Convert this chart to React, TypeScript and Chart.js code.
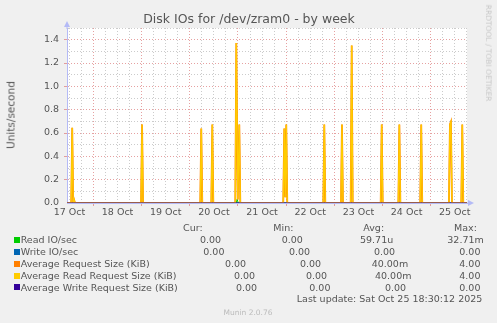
import React, { useEffect, useRef } from "react";
import { Chart, registerables } from "chart.js";

Chart.register(...registerables);

// ---------- data ----------
const titleText = "Disk IOs for /dev/zram0 - by week";
const yAxisTitle = "Units/second";
const dayLabels = ["17 Oct", "18 Oct", "19 Oct", "20 Oct", "21 Oct", "22 Oct", "23 Oct", "24 Oct", "25 Oct"];
const dayLabelHours = [12, 36, 60, 84, 108, 132, 156, 180, 204];
const yTicks = [0, 0.1, 0.2, 0.3, 0.4, 0.5, 0.6, 0.7, 0.8, 0.9, 1.0, 1.1, 1.2, 1.3, 1.4, 1.5];
const xMinHour = 10.8;
const xMaxHour = 210.1;

// spikes (hours since 17 Oct 00:00) of the average request size (KiB)
const spikeHours = [13.4, 14.3, 48.2, 77.7, 83.2, 95.15, 95.9, 96.65, 119.05, 119.55, 120.05, 139.0, 147.8, 152.65, 167.6, 176.4, 187.3, 201.6, 202.1, 207.75];
const avgRequestSize = [0.645, 0.03, 0.673, 0.638, 0.673, 1.372, 0.03, 0.673, 0.638, 0.05, 0.673, 0.673, 0.673, 1.349, 0.673, 0.673, 0.673, 0.673, 0.696, 0.673];
const avgReadRequestSize = [0.645, 0.03, 0.673, 0.638, 0.673, 1.372, 0.03, 0.673, 0.638, 0.05, 0.673, 0.673, 0.673, 1.349, 0.673, 0.673, 0.673, 0.673, 0.696, 0.673];
const readIoHours = [95.6];
const readIoValues = [0.0327];

const legendNames = ["Read IO/sec", "Write IO/sec", "Average Request Size (KiB)", "Average Read Request Size (KiB)", "Average Write Request Size (KiB)"];
const legendColors = ["#00CC00", "#0066B3", "#FF8000", "#FFCC00", "#330099"];
const curValues = ["0.00", "0.00", "0.00", "0.00", "0.00"];
const minValues = ["0.00", "0.00", "0.00", "0.00", "0.00"];
const avgValues = ["59.71u", "0.00", "40.00m", "40.00m", "0.00"];
const maxValues = ["32.71m", "0.00", "4.00", "4.00", "0.00"];
const lastUpdate = "Last update: Sat Oct 25 18:30:12 2025";
const muninVersion = "Munin 2.0.76";
const rrdCredit = "RRDTOOL / TOBI OETIKER";

// ---------- layout ----------
const W = 497;
const H = 323;
const FONT = "'DejaVu Sans', sans-serif";
const TEXT = "#555555";
const AXIS = "#b4baf6";
const MAJOR = "rgba(222,130,130,0.75)";
const MINOR = "rgba(190,190,190,0.8)";

const rowBaselines = [243.3, 255.1, 267.3, 279.3, 290.7];
const curX = [200, 203.3, 225, 234, 236];
const minX = [281.7, 289, 300, 306, 309.3];
const avgX = [360, 374, 371.7, 375, 385];
const maxX = [447.3, 459.3, 459.3, 459.3, 459.3];

type Pt = { x: number; y: number };
function spikeSeries(hours: number[], values: number[]): Pt[] {
  const pts: Pt[] = [{ x: xMinHour, y: 0 }];
  hours.forEach((h, i) => {
    const prev = hours[i - 1];
    const next = hours[i + 1];
    if (prev === undefined || h - prev > 0.9) pts.push({ x: h - 0.5, y: 0 });
    pts.push({ x: h, y: values[i] });
    if (next === undefined || next - h > 0.9) pts.push({ x: h + 0.5, y: 0 });
  });
  pts.push({ x: xMaxHour, y: 0 });
  return pts;
}
const flat: Pt[] = [{ x: xMinHour, y: 0 }, { x: xMaxHour, y: 0 }];

const plotBg = {
  id: "plotBg",
  beforeDraw(chart: any) {
    const { ctx, chartArea: a } = chart;
    ctx.save();
    ctx.fillStyle = "#ffffff";
    ctx.fillRect(a.left, a.top, a.right - a.left, a.bottom - a.top);
    ctx.restore();
  },
  afterDraw(chart: any) {
    const { ctx, chartArea: a } = chart;
    ctx.save();
    ctx.fillStyle = AXIS;
    // y axis arrow
    ctx.beginPath();
    ctx.moveTo(a.left - 3, a.top - 1);
    ctx.lineTo(a.left + 3, a.top - 1);
    ctx.lineTo(a.left, a.top - 7);
    ctx.closePath();
    ctx.fill();
    ctx.fillRect(a.left - 0.5, a.top - 2, 1, 3);
    // x axis arrow
    ctx.fillRect(a.right, a.bottom - 0.5, 2, 1);
    ctx.beginPath();
    ctx.moveTo(a.right + 1, a.bottom - 3);
    ctx.lineTo(a.right + 1, a.bottom + 3);
    ctx.lineTo(a.right + 7, a.bottom);
    ctx.closePath();
    ctx.fill();
    ctx.restore();
  },
};

function Txt(props: { x: number; base: number; size?: number; color?: string; align?: "left" | "right" | "center"; children: React.ReactNode }) {
  const size = props.size ?? 9.5;
  const top = props.base - 0.846 * size;
  const style: React.CSSProperties = {
    position: "absolute",
    top,
    fontFamily: FONT,
    fontSize: size,
    lineHeight: `${size}px`,
    color: props.color ?? TEXT,
    whiteSpace: "nowrap",
  };
  if (props.align === "right") style.right = W - props.x;
  else if (props.align === "center") {
    style.left = props.x;
    style.transform = "translateX(-50%)";
  } else style.left = props.x;
  return <div style={style}>{props.children}</div>;
}

export default function App() {
  const ref = useRef<HTMLCanvasElement>(null);

  useEffect(() => {
    if (!ref.current) return;
    const chart = new Chart(ref.current, {
      type: "line",
      data: {
        datasets: [
          { label: legendNames[4], data: flat, borderColor: legendColors[4], borderWidth: 1, pointRadius: 0, order: 0 },
          { label: legendNames[3], data: spikeSeries(spikeHours, avgReadRequestSize), borderColor: legendColors[3], borderWidth: 1.3, pointRadius: 0, order: 1 },
          { label: legendNames[2], data: spikeSeries(spikeHours, avgRequestSize), borderColor: legendColors[2], borderWidth: 1.8, pointRadius: 0, order: 2 },
          { label: legendNames[1], data: flat, borderColor: legendColors[1], borderWidth: 1, pointRadius: 0, order: 3 },
          { label: legendNames[0], data: spikeSeries(readIoHours, readIoValues), borderColor: legendColors[0], borderWidth: 1, pointRadius: 0, order: 4 },
        ],
      },
      options: {
        animation: false,
        responsive: false,
        devicePixelRatio: 1,
        layout: { padding: { left: 0, right: 30, top: 28, bottom: 100 } },
        plugins: { legend: { display: false }, tooltip: { enabled: false }, title: { display: false } },
        elements: { line: { tension: 0 } },
        scales: {
          x: {
            type: "linear",
            min: xMinHour,
            max: xMaxHour,
            afterBuildTicks(scale: any) {
              const t: any[] = [];
              for (let h = 12; h <= xMaxHour; h += 6) t.push({ value: h });
              scale.ticks = t;
            },
            afterFit(scale: any) {
              scale.height = 20;
            },
            ticks: {
              autoSkip: false,
              maxRotation: 0,
              padding: 1,
              color: TEXT,
              font: { family: FONT, size: 9.5 },
              callback(v: any) {
                const i = dayLabelHours.indexOf(Number(v));
                return i >= 0 ? dayLabels[i] : "";
              },
            },
            grid: {
              color: (c: any) => (c.tick && c.tick.value % 24 === 0 ? MAJOR : MINOR),
              tickColor: (c: any) => (c.tick && c.tick.value % 24 === 0 ? MAJOR : "rgba(0,0,0,0)"),
              tickLength: 3,
              lineWidth: 1,
            },
            border: { display: true, color: AXIS, dash: [1, 2] },
          },
          y: {
            type: "linear",
            min: 0,
            max: 1.5,
            afterBuildTicks(scale: any) {
              scale.ticks = yTicks.map((v) => ({ value: v }));
            },
            afterFit(scale: any) {
              scale.width = 67;
            },
            ticks: {
              autoSkip: false,
              padding: 5,
              color: TEXT,
              font: { family: FONT, size: 9.5 },
              callback(v: any) {
                const n = Math.round(Number(v) * 10);
                return n % 2 === 0 && n < 15 ? (n / 10).toFixed(1) : "";
              },
            },
            grid: {
              color: (c: any) => {
                const n = c.tick ? Math.round(c.tick.value * 10) : 1;
                if (n === 0) return "rgba(0,0,0,0)";
                return n % 2 === 0 ? MAJOR : MINOR;
              },
              tickColor: (c: any) => {
                const n = c.tick ? Math.round(c.tick.value * 10) : 1;
                return n % 2 === 0 && n > 0 ? MAJOR : "rgba(0,0,0,0)";
              },
              tickLength: 3,
              lineWidth: 1,
            },
            border: { display: true, color: AXIS, dash: [1, 2] },
          },
        },
      },
      plugins: [plotBg],
    } as any);
    return () => chart.destroy();
  }, []);

  return (
    <div style={{ position: "fixed", left: 0, top: 0, width: W, height: H, background: "#f0f0f0", overflow: "hidden" }}>
      <canvas ref={ref} width={W} height={H} style={{ position: "absolute", left: 0, top: 0, width: W, height: H }} />
      <Txt x={249} base={24} size={12.5} align="center">{titleText}</Txt>
      <div
        style={{
          position: "absolute",
          left: 11,
          top: 114.7,
          transform: "translate(-50%, -50%) rotate(-90deg)",
          fontFamily: FONT,
          fontSize: 10.5,
          lineHeight: "11px",
          color: TEXT,
          whiteSpace: "nowrap",
        }}
      >
        {yAxisTitle}
      </div>
      <div
        style={{
          position: "absolute",
          left: 488,
          top: 53,
          transform: "translate(-50%, -50%) rotate(90deg)",
          fontFamily: FONT,
          fontSize: 7.5,
          lineHeight: "8px",
          color: "#c8c8c8",
          whiteSpace: "nowrap",
        }}
      >
        {rrdCredit}
      </div>
      <Txt x={183} base={231.5}>Cur:</Txt>
      <Txt x={273.3} base={231.5}>Min:</Txt>
      <Txt x={363.3} base={231.5}>Avg:</Txt>
      <Txt x={454} base={231.5}>Max:</Txt>
      {legendNames.map((name, i) => (
        <React.Fragment key={name}>
          <div
            style={{
              position: "absolute",
              left: 14,
              top: rowBaselines[i] - 6.5,
              width: 6,
              height: 6,
              background: legendColors[i],
            }}
          />
          <Txt x={20.7} base={rowBaselines[i]}>{name}</Txt>
          <Txt x={curX[i]} base={rowBaselines[i]}>{curValues[i]}</Txt>
          <Txt x={minX[i]} base={rowBaselines[i]}>{minValues[i]}</Txt>
          <Txt x={avgX[i]} base={rowBaselines[i]}>{avgValues[i]}</Txt>
          <Txt x={maxX[i]} base={rowBaselines[i]}>{maxValues[i]}</Txt>
        </React.Fragment>
      ))}
      <Txt x={482.3} base={302.4} align="right">{lastUpdate}</Txt>
      <Txt x={248} base={315} size={7.5} color="#bbbbbb" align="center">{muninVersion}</Txt>
    </div>
  );
}
